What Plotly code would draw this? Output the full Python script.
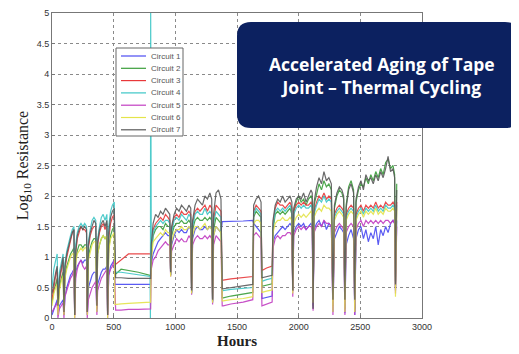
import plotly.graph_objects as go

# ---------------- data ----------------
hours = [
    # segment 0-510
    0, 15, 30, 42, 48, 60, 75, 90, 97, 105, 120, 135, 150, 165, 178, 184, 192, 205, 220, 235,
    250, 265, 280, 286, 295, 310, 325, 340, 355, 364, 370, 385, 400, 415, 430, 445, 451, 460, 475, 490,
    505, 510,
    # plateau 516-800
    516, 560, 620, 700, 795, 798, 800,
    # 805-1380
    805, 820, 840, 860, 880, 900, 920, 940, 955, 962, 970, 990, 1010, 1030, 1050, 1070, 1090, 1110, 1125, 1132,
    1140, 1160, 1180, 1200, 1220, 1240, 1260, 1280, 1295, 1302, 1310, 1330, 1350, 1370, 1380,
    # plateau 1388-1628
    1388, 1450, 1550, 1628,
    # 1635-1695
    1635, 1655, 1675, 1695,
    # low 1702-1785
    1702, 1740, 1785,
    # 1792-1952
    1792, 1810, 1830, 1850, 1870, 1890, 1910, 1930, 1945, 1952,
    # 1960-2117
    1960, 1980, 2000, 2020, 2040, 2060, 2080, 2100, 2110, 2117,
    # 2125-2278
    2125, 2145, 2165, 2185, 2205, 2225, 2245, 2265, 2278,
    # 2290-2375
    2290, 2310, 2330, 2350, 2365, 2375,
    # 2385-2455
    2385, 2405, 2425, 2445, 2455,
    # 2465-2795
    2465, 2485, 2505, 2525, 2545, 2565, 2585, 2605, 2625, 2645, 2665, 2685, 2705, 2725, 2745, 2765,
    2778, 2785, 2795,
]

circuit1 = [  # blue
    0.05, 0.15, 0.25, 0.3, 0.05, 0.2, 0.25, 0.3, 0.05, 0.35, 0.5, 0.6, 0.7, 0.75, 0.8, 0.05, 0.75, 0.85, 0.9, 0.95,
    0.9, 0.95, 0.95, 0.05, 0.5, 0.6, 0.7, 0.75, 0.75, 0.1, 0.55, 0.65, 0.75, 0.8, 0.8, 0.85, 0.05, 0.7, 0.85, 0.9,
    0.95, 0.55,
    0.55, 0.55, 0.55, 0.55, 0.55, 0.55, 0.55,
    0.9, 1.05, 1.15, 1.25, 1.3, 1.35, 1.4, 1.35, 1.35, 0.7, 1.2, 1.35, 1.45, 1.4, 1.45, 1.4, 1.4, 1.5, 1.45, 0.4,
    1.3, 1.45, 1.5, 1.45, 1.45, 1.5, 1.45, 1.5, 1.45, 0.25, 1.35, 1.5, 1.45, 1.4, 1.58,
    1.58, 1.58, 1.59, 1.6,
    1.55, 1.5, 1.45, 1.4,
    0.32, 0.34, 0.36,
    1.25, 1.35, 1.4, 1.45, 1.5, 1.45, 1.5, 1.55, 1.5, 0.45,
    1.4, 1.5, 1.55, 1.5, 1.55, 1.45, 1.5, 1.55, 1.5, 0.2,
    1.45, 1.55, 1.6, 1.5, 1.6, 1.45, 1.55, 1.5, 0.1,
    1.3, 1.4, 1.5, 1.45, 1.4, 0.08,
    1.2, 1.35, 1.45, 1.3, 0.05,
    1.3, 1.45, 1.5, 1.3, 1.45, 1.25, 1.4, 1.3, 1.5, 1.2, 1.45, 1.35, 1.5, 1.4, 1.55, 1.6,
    1.55, 0.45, 1.6,
]

circuit2 = [  # green
    0.25, 0.45, 0.55, 0.65, 0.1, 0.5, 0.65, 0.75, 0.05, 0.7, 0.85, 0.95, 1.05, 1.1, 1.15, 0.05, 0.95, 1.1, 1.2, 1.2,
    1.15, 1.2, 1.2, 0.1, 1.0, 1.15, 1.25, 1.3, 1.3, 0.15, 1.05, 1.2, 1.3, 1.35, 1.3, 1.35, 0.05, 1.15, 1.35, 1.45,
    1.5, 0.72,
    0.72, 0.8, 0.78, 0.75, 0.7, 0.7, 0.7,
    1.0, 1.35, 1.45, 1.5, 1.5, 1.45, 1.55, 1.5, 1.5, 0.7, 1.35, 1.5, 1.55, 1.55, 1.6, 1.55, 1.55, 1.6, 1.55, 0.42,
    1.45, 1.6, 1.65, 1.6, 1.6, 1.65, 1.6, 1.65, 1.6, 0.27, 1.45, 1.65, 1.6, 1.55, 0.33,
    0.33, 0.36, 0.39, 0.42,
    1.65, 1.75, 1.7, 1.65,
    0.52, 0.54, 0.56,
    1.45, 1.7, 1.75, 1.7, 1.75, 1.7, 1.75, 1.8, 1.7, 0.45,
    1.75, 1.9, 2.0, 1.9, 1.95, 1.85, 1.95, 2.0, 1.95, 0.2,
    1.85, 2.05, 2.2, 2.1, 2.25, 2.15, 2.2, 2.1, 0.25,
    1.8, 2.0, 2.1, 2.05, 1.95, 0.2,
    1.85, 2.15, 2.25, 2.1, 0.15,
    1.9, 2.1, 2.2, 2.15, 2.3, 2.2, 2.35, 2.25, 2.4, 2.3, 2.45, 2.35, 2.55, 2.6, 2.45, 2.5,
    2.35, 0.6, 2.2,
]

circuit3 = [  # red
    0.3, 0.55, 0.7, 0.8, 0.15, 0.6, 0.8, 0.95, 0.1, 0.8, 1.0, 1.15, 1.3, 1.4, 1.45, 0.05, 1.05, 1.3, 1.4, 1.5,
    1.45, 1.45, 1.4, 0.1, 1.15, 1.35, 1.45, 1.5, 1.5, 0.2, 1.2, 1.4, 1.5, 1.55, 1.45, 1.55, 0.05, 1.3, 1.55, 1.65,
    1.7, 0.85,
    0.88, 0.95, 1.05, 1.05, 1.05, 1.05, 1.05,
    1.1, 1.45, 1.55, 1.6, 1.65, 1.6, 1.7, 1.65, 1.6, 0.75, 1.45, 1.65, 1.7, 1.65, 1.75, 1.7, 1.7, 1.75, 1.7, 0.45,
    1.55, 1.75, 1.8, 1.75, 1.8, 1.85, 1.75, 1.85, 1.8, 0.3, 1.6, 1.85, 1.8, 1.75, 0.62,
    0.62, 0.64, 0.66, 0.68,
    1.75, 1.85, 1.8, 1.75,
    0.78, 0.82, 0.85,
    1.55, 1.8, 1.9, 1.85, 1.85, 1.8, 1.85, 1.9, 1.8, 0.45,
    1.75, 1.85, 1.9, 1.85, 1.9, 1.85, 1.85, 1.9, 1.85, 0.15,
    1.75, 1.9, 2.0, 1.95, 2.05, 1.95, 2.0, 1.95, 0.2,
    1.7, 1.8, 1.85, 1.8, 1.75, 0.15,
    1.7, 1.8, 1.85, 1.8, 0.1,
    1.7, 1.8, 1.85, 1.75, 1.85, 1.8, 1.85, 1.8, 1.9, 1.8, 1.85, 1.8, 1.9, 1.85, 1.85, 1.9,
    1.85, 0.5, 1.9,
]

circuit4 = [  # cyan
    0.5, 0.8, 0.95, 1.05, 0.3, 0.75, 0.9, 1.05, 0.2, 0.9, 1.1, 1.25, 1.35, 1.45, 1.5, 0.1, 1.2, 1.4, 1.5, 1.55,
    1.5, 1.55, 1.5, 0.15, 1.25, 1.45, 1.6, 1.65, 1.6, 0.25, 1.3, 1.5, 1.65, 1.7, 1.6, 1.7, 0.1, 1.5, 1.75, 1.85,
    1.9, 0.76,
    0.75, 0.75, 0.73, 0.7, 0.68, 0.0, 5.0,
    1.05, 1.4, 1.5, 1.55, 1.6, 1.55, 1.6, 1.6, 1.55, 0.72, 1.4, 1.6, 1.65, 1.6, 1.7, 1.65, 1.6, 1.7, 1.65, 0.42,
    1.5, 1.7, 1.75, 1.7, 1.7, 1.8, 1.7, 1.75, 1.7, 0.28, 1.55, 1.75, 1.7, 1.65, 0.48,
    0.45, 0.47, 0.48, 0.5,
    1.7, 1.8, 1.75, 1.7,
    0.6, 0.63, 0.65,
    1.5, 1.75, 1.8, 1.75, 1.8, 1.75, 1.8, 1.85, 1.75, 0.45,
    1.7, 1.8, 1.85, 1.8, 1.85, 1.8, 1.8, 1.85, 1.8, 0.15,
    1.7, 1.85, 1.95, 1.9, 2.0, 1.9, 1.95, 1.9, 0.2,
    1.65, 1.75, 1.8, 1.75, 1.7, 0.15,
    1.65, 1.75, 1.8, 1.75, 0.1,
    1.65, 1.75, 1.8, 1.7, 1.8, 1.75, 1.8, 1.75, 1.85, 1.75, 1.8, 1.75, 1.85, 1.8, 1.8, 1.85,
    1.8, 0.5, 1.85,
]

circuit5 = [  # magenta
    0.1, 0.15, 0.2, 0.25, 0.0, 0.15, 0.2, 0.25, 0.0, 0.35, 0.45, 0.55, 0.65, 0.7, 0.8, 0.0, 0.65, 0.8, 0.9, 0.95,
    0.85, 0.8, 0.85, 0.0, 0.3, 0.4, 0.5, 0.55, 0.6, 0.05, 0.45, 0.55, 0.65, 0.7, 0.75, 0.8, 0.0, 0.7, 0.8, 0.85,
    0.95, 0.13,
    0.13, 0.13, 0.14, 0.14, 0.15, 0.15, 0.15,
    0.8, 0.95, 1.0, 1.1, 1.15, 1.2, 1.25, 1.2, 1.2, 0.68, 1.1, 1.2, 1.3, 1.25, 1.3, 1.25, 1.25, 1.35, 1.3, 0.38,
    1.2, 1.3, 1.35, 1.3, 1.3, 1.35, 1.3, 1.35, 1.3, 0.22, 1.2, 1.35, 1.3, 1.25, 0.2,
    0.2, 0.23, 0.26, 0.3,
    1.35, 1.4, 1.35, 1.3,
    0.2, 0.23, 0.26,
    1.15, 1.3, 1.35, 1.3, 1.35, 1.35, 1.4, 1.4, 1.35, 0.35,
    1.35, 1.45, 1.5, 1.45, 1.5, 1.45, 1.5, 1.5, 1.45, 0.12,
    1.4, 1.5, 1.55, 1.5, 1.6, 1.55, 1.55, 1.5, 0.05,
    1.4, 1.5, 1.55, 1.5, 1.45, 0.05,
    1.4, 1.5, 1.55, 1.5, 0.05,
    1.45, 1.55, 1.6, 1.5, 1.6, 1.55, 1.6, 1.55, 1.6, 1.55, 1.6, 1.55, 1.6, 1.6, 1.55, 1.6,
    1.55, 0.4, 1.5,
]

circuit6 = [  # yellow
    0.2, 0.4, 0.5, 0.55, 0.05, 0.45, 0.6, 0.7, 0.05, 0.65, 0.8, 0.9, 1.0, 1.05, 1.05, 0.0, 0.9, 1.05, 1.1, 1.15,
    1.1, 1.15, 1.15, 0.05, 0.95, 1.1, 1.2, 1.25, 1.25, 0.1, 1.05, 1.2, 1.3, 1.35, 1.3, 1.35, 0.0, 1.1, 1.3, 1.35,
    1.4, 0.22,
    0.22, 0.23, 0.24, 0.25, 0.26, 0.26, 0.26,
    0.95, 1.25, 1.3, 1.35, 1.4, 1.35, 1.45, 1.4, 1.4, 0.68, 1.25, 1.4, 1.45, 1.45, 1.5, 1.45, 1.45, 1.5, 1.45, 0.4,
    1.35, 1.5, 1.5, 1.45, 1.5, 1.55, 1.45, 1.5, 1.45, 0.25, 1.35, 1.5, 1.45, 1.4, 0.28,
    0.28, 0.3, 0.32, 0.35,
    1.55, 1.6, 1.6, 1.55,
    0.42, 0.44, 0.46,
    1.4, 1.55, 1.6, 1.6, 1.65, 1.6, 1.6, 1.65, 1.6, 0.4,
    1.55, 1.65, 1.7, 1.65, 1.7, 1.65, 1.7, 1.75, 1.7, 0.25,
    1.65, 1.75, 1.8, 1.75, 1.85, 1.8, 1.8, 1.75, 0.1,
    1.6, 1.7, 1.75, 1.7, 1.65, 0.1,
    1.6, 1.7, 1.75, 1.7, 0.1,
    1.6, 1.7, 1.75, 1.65, 1.75, 1.7, 1.75, 1.7, 1.8, 1.7, 1.75, 1.7, 1.8, 1.75, 1.75, 1.8,
    1.75, 0.35, 1.8,
]

circuit7 = [  # black / gray
    0.4, 0.6, 0.75, 0.85, 0.2, 0.65, 0.85, 1.0, 0.1, 0.85, 1.05, 1.2, 1.3, 1.4, 1.45, 0.05, 1.1, 1.35, 1.45, 1.5,
    1.45, 1.5, 1.45, 0.1, 1.2, 1.4, 1.5, 1.6, 1.55, 0.2, 1.25, 1.45, 1.55, 1.6, 1.5, 1.6, 0.05, 1.4, 1.65, 1.75,
    1.8, 0.66,
    0.66, 0.66, 0.65, 0.65, 0.65, 0.65, 0.65,
    1.2, 1.55, 1.7, 1.65, 1.75, 1.7, 1.8, 1.75, 1.7, 0.75, 1.5, 1.7, 1.8, 1.75, 1.85, 1.8, 1.75, 1.85, 1.8, 0.45,
    1.6, 1.85, 1.95, 1.9, 1.85, 2.0, 1.95, 2.05, 1.95, 0.3, 1.7, 2.05, 2.1, 1.95, 0.48,
    0.48, 0.5, 0.52, 0.55,
    1.85, 1.95, 2.0, 1.9,
    0.66, 0.68, 0.7,
    1.6, 1.85, 1.95, 1.9, 2.0, 1.9, 1.95, 2.0, 1.9, 0.45,
    1.8, 1.95, 2.0, 1.95, 2.05, 1.9, 2.0, 2.1, 2.05, 0.15,
    1.9, 2.15, 2.3, 2.2, 2.4, 2.25, 2.3, 2.2, 0.3,
    1.85, 2.05, 2.15, 2.1, 2.0, 0.3,
    1.8, 2.1, 2.2, 2.05, 0.3,
    1.95, 2.15, 2.25, 2.1, 2.35, 2.25, 2.3, 2.2, 2.35, 2.25, 2.4, 2.3, 2.45, 2.65, 2.4, 2.45,
    2.3, 0.55, 2.1,
]

series_names = ["Circuit 1", "Circuit 2", "Circuit 3", "Circuit 4", "Circuit 5", "Circuit 6", "Circuit 7"]
series_values = [circuit1, circuit2, circuit3, circuit4, circuit5, circuit6, circuit7]
series_colors = ["#4a4af2", "#3a9e3a", "#e8383a", "#3cc6c6", "#c23ec2", "#e4e44a", "#5a5a5a"]

x_ticks = [0, 500, 1000, 1500, 2000, 2500, 3000]
y_ticks = [0, 0.5, 1, 1.5, 2, 2.5, 3, 3.5, 4, 4.5, 5]
y_tick_labels = ["0", "0.5", "1", "1.5", "2", "2.5", "3", "3.5", "4", "4.5", "5"]

title_lines = ["Accelerated Aging of Tape", "Joint \u2013 Thermal Cycling"]

# ---------------- figure ----------------
# the page body has an 8px margin, so the figure is offset by (8, 8) on screen
OFF = 8
SW, SH = 519, 354                 # screen size
W, H = SW - OFF, SH - OFF         # figure size
SL, SR, ST, SB = 52, 422, 13, 318  # plot area in screen pixels
ML, MT = SL - OFF, ST - OFF
MR, MB = W - (SR - OFF), H - (SB - OFF)
PW, PH = SR - SL, SB - ST

def px(x):   # screen x -> paper
    return (x - SL) / PW

def py(y):   # screen y -> paper
    return (SB - y) / PH

fig = go.Figure()
for name, vals, col in zip(series_names, series_values, series_colors):
    fig.add_trace(go.Scatter(x=hours, y=vals, mode="lines", name=name,
                             line=dict(color=col, width=1.2), opacity=0.9, showlegend=False))

axis_common = dict(showline=True, linecolor="#777777", linewidth=1, mirror=True, automargin=False,
                   showgrid=True, gridcolor="#8a8a8a", griddash="dot", gridwidth=1,
                   zeroline=False, ticks="inside", ticklen=3, tickcolor="#777777",
                   tickfont=dict(family="Liberation Sans", size=9, color="#333333"))

fig.update_xaxes(range=[0, 3000], tickvals=x_ticks, **axis_common,
                 title=dict(text="<b>Hours</b>", font=dict(family="Liberation Serif", size=15, color="#222222"),
                            standoff=4))
fig.update_yaxes(range=[0, 5], tickvals=y_ticks, ticktext=y_tick_labels, **axis_common,
                 title=dict(text="Log<sub>10</sub> Resistance",
                            font=dict(family="Liberation Serif", size=16, color="#222222"), standoff=4))

shapes = []
annotations = []

# legend box (drawn manually)
lx0, lx1, ly0, ly1 = 116, 183, 48, 136
shapes.append(dict(type="rect", xref="paper", yref="paper", x0=px(lx0), x1=px(lx1), y0=py(ly1), y1=py(ly0),
                   line=dict(color="#666666", width=1), fillcolor="white", layer="above"))
for i, (name, col) in enumerate(zip(series_names, series_colors)):
    yy = 56 + i * 12.3
    shapes.append(dict(type="line", xref="paper", yref="paper", x0=px(121), x1=px(146), y0=py(yy), y1=py(yy),
                       line=dict(color=col, width=1.2), layer="above"))
    annotations.append(dict(text=name, xref="paper", yref="paper", x=px(149), y=py(yy), xanchor="left",
                            yanchor="middle", showarrow=False,
                            font=dict(family="Liberation Sans", size=8, color="#555555")))

# title box (rounded rectangle)
bx0, bx1, by0, by1, r = 237, 519, 22, 128, 14
rx, ry = r / PW, r / PH
X0, X1, Y0, Y1 = px(bx0), px(bx1), py(by1), py(by0)
path = (f"M {X0+rx},{Y1} L {X1-rx},{Y1} Q {X1},{Y1} {X1},{Y1-ry} "
        f"L {X1},{Y0+ry} Q {X1},{Y0} {X1-rx},{Y0} L {X0+rx},{Y0} Q {X0},{Y0} {X0},{Y0+ry} "
        f"L {X0},{Y1-ry} Q {X0},{Y1} {X0+rx},{Y1} Z")
shapes.append(dict(type="path", xref="paper", yref="paper", path=path, fillcolor="#0c2160",
                   line=dict(width=0), layer="above"))
annotations.append(dict(text="<b>" + "<br>".join(title_lines) + "</b>", xref="paper", yref="paper",
                        x=px(382), y=py(75), xanchor="center", yanchor="middle", showarrow=False,
                        align="center",
                        font=dict(family="Open Sans", size=17.5, color="white")))

fig.update_layout(width=W, height=H, margin=dict(l=ML, r=MR, t=MT, b=MB),
                  paper_bgcolor="white", plot_bgcolor="white", shapes=shapes, annotations=annotations,
                  showlegend=False)

fig.write_html("out.html")
